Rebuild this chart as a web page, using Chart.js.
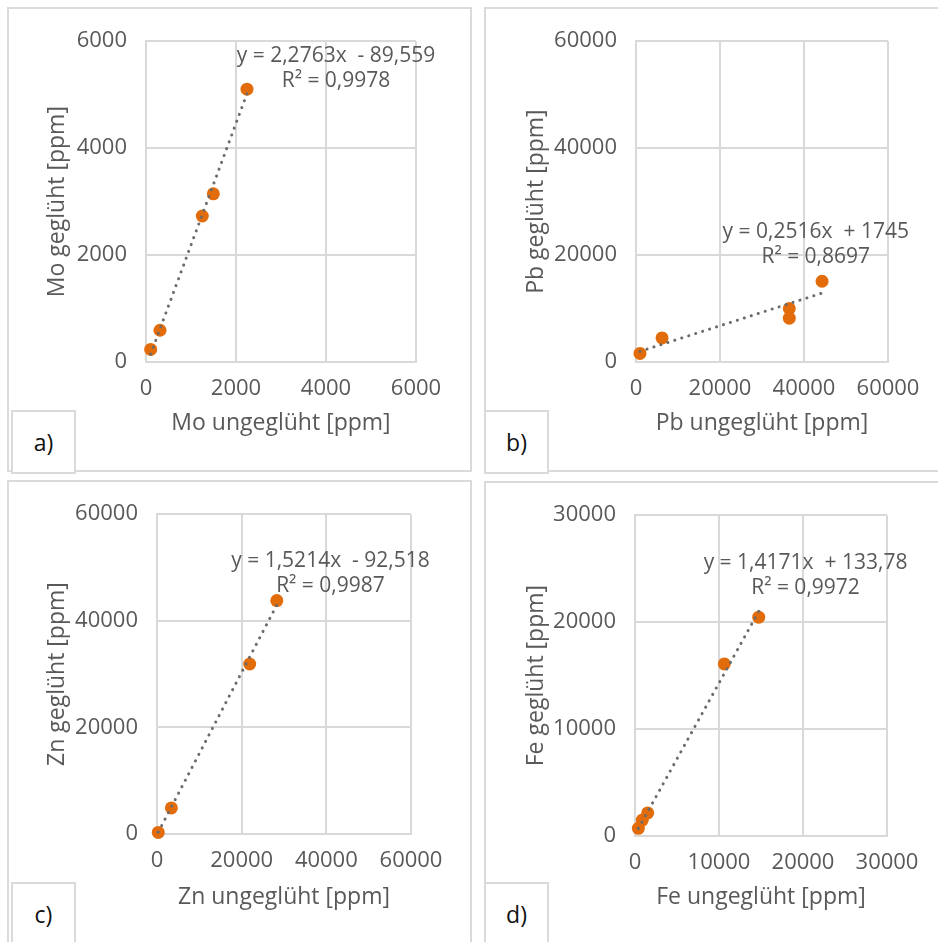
<!DOCTYPE html>
<html lang="de">
<head>
<meta charset="utf-8">
<title>geglüht vs. ungeglüht</title>
<script src="https://cdn.jsdelivr.net/npm/chart.js@4.4.1/dist/chart.umd.min.js"></script>
<style>
  body { margin: 0; background: #fff; width: 938px; height: 942px; overflow: hidden; position: relative; }
  .panel { position: absolute; box-sizing: border-box; border: 2px solid #dadada; background: #fff; }
  canvas { position: absolute; }
  .tag {
    position: absolute; box-sizing: border-box; border: 2px solid #dadada; background: #fff;
    font-family: "Open Sans", sans-serif; font-size: 23px; color: #111;
    display: flex; align-items: center; justify-content: center;
  }
</style>
</head>
<body>

<script>
// Messwerte (ppm), ungeglüht gegen geglüht
const moUngegluht = [104, 311, 1251, 1496, 2244];
const moGegluht = [236, 594, 2731, 3145, 5103];

const pbUngegluht = [950, 6200, 36500, 36500, 44300];
const pbGegluht = [1600, 4500, 10000, 8200, 15100];

const znUngegluht = [300, 3400, 21900, 28300];
const znGegluht = [300, 4900, 31900, 43800];

const feUngegluht = [400, 870, 1510, 10630, 14730];
const feGegluht = [720, 1490, 2160, 16090, 20460];

// lineare Regression je Element: Steigung, Achsenabschnitt, R²
const slopes = [2.2763, 0.2516, 1.5214, 1.4171];
const intercepts = [-89.559, 1745, -92.518, 133.78];
const rSquared = ['0,9978', '0,8697', '0,9987', '0,9972'];
const equations = ['y = 2,2763x  - 89,559', 'y = 0,2516x  + 1745', 'y = 1,5214x  - 92,518', 'y = 1,4171x  + 133,78'];

// Achsenbereiche
const axisMax = [6000, 60000, 60000, 30000];
const axisStep = [2000, 20000, 20000, 10000];
const elements = ['Mo', 'Pb', 'Zn', 'Fe'];
const tags = ['a)', 'b)', 'c)', 'd)'];

const panels = [
  { box: { x: 9, y: 9, w: 461, h: 461 }, plot: { l: 146, t: 39, r: 416, b: 362 }, eq: [4222, 5721], xs: moUngegluht, ys: moGegluht },
  { box: { x: 486, y: 9, w: 452, h: 461 }, plot: { l: 636, t: 39, r: 888, b: 362 }, eq: [42800, 24330], xs: pbUngegluht, ys: pbGegluht },
  { box: { x: 9, y: 482, w: 461, h: 460 }, plot: { l: 157, t: 512, r: 411, b: 834 }, eq: [40980, 51240], xs: znUngegluht, ys: znGegluht },
  { box: { x: 486, y: 483, w: 452, h: 459 }, plot: { l: 635, t: 513, r: 887, b: 836 }, eq: [20300, 25570], xs: feUngegluht, ys: feGegluht }
];

const grey = '#595959';
const gridColor = '#d9d9d9';
const font = '"Open Sans", sans-serif';

// Gleichung und Bestimmtheitsmaß über der Trendlinie
const trendLabel = {
  id: 'trendLabel',
  afterDatasetsDraw(chart, args, opts) {
    const ctx = chart.ctx;
    const x = chart.scales.x.getPixelForValue(opts.at[0]);
    const y = chart.scales.y.getPixelForValue(opts.at[1]);
    ctx.save();
    ctx.font = '21px ' + font;
    ctx.fillStyle = grey;
    ctx.textAlign = 'center';
    ctx.textBaseline = 'middle';
    ctx.fillText(opts.lines[0], x, y);
    ctx.fillText(opts.lines[1], x, y + 25);
    ctx.restore();
  }
};

panels.forEach(function (p, i) {
  const frame = document.createElement('div');
  frame.className = 'panel';
  frame.style.left = (p.box.x - 2) + 'px';
  frame.style.top = (p.box.y - 2) + 'px';
  frame.style.width = (p.box.w + 4) + 'px';
  frame.style.height = (p.box.h + 4) + 'px';
  document.body.appendChild(frame);

  const canvas = document.createElement('canvas');
  canvas.width = p.box.w;
  canvas.height = p.box.h;
  canvas.style.left = p.box.x + 'px';
  canvas.style.top = p.box.y + 'px';
  document.body.appendChild(canvas);

  const tag = document.createElement('div');
  tag.className = 'tag';
  tag.textContent = tags[i];
  tag.style.left = (p.box.x + (i % 2 === 0 ? 2 : -2)) + 'px';
  tag.style.top = (p.box.y + p.box.h - 60) + 'px';
  tag.style.width = '65px';
  tag.style.height = '64px';
  document.body.appendChild(tag);

  const points = p.xs.map((x, k) => ({ x: x, y: p.ys[k] }));
  const xMin = Math.min(...p.xs);
  const xMax = Math.max(...p.xs);
  const trend = [xMin, xMax].map(x => ({ x: x, y: slopes[i] * x + intercepts[i] }));

  const yWidth = p.plot.l - p.box.x;
  const xHeight = p.box.y + p.box.h - p.plot.b;

  const scaleBase = {
    type: 'linear',
    min: 0,
    max: axisMax[i],
    ticks: {
      stepSize: axisStep[i],
      color: grey,
      font: { family: font, size: 22 },
      callback: v => String(v)
    },
    grid: { color: gridColor, lineWidth: 2, drawTicks: false },
    border: { color: gridColor, width: 2 }
  };

  new Chart(canvas.getContext('2d'), {
    type: 'scatter',
    data: {
      datasets: [
        {
          type: 'line',
          data: trend,
          borderColor: '#6b6b6b',
          borderWidth: 3,
          borderDash: [0.1, 7.2],
          borderCapStyle: 'round',
          pointRadius: 0,
          fill: false,
          clip: false
        },
        {
          data: points,
          backgroundColor: '#e36c0a',
          borderWidth: 0,
          pointRadius: 6.5,
          clip: false
        }
      ]
    },
    options: {
      responsive: false,
      animation: false,
      devicePixelRatio: 1,
      layout: { padding: { top: p.plot.t - p.box.y, right: p.box.x + p.box.w - p.plot.r, left: 0, bottom: 0 } },
      plugins: {
        legend: { display: false },
        tooltip: { enabled: false },
        trendLabel: { at: p.eq, lines: [equations[i], 'R² = ' + rSquared[i]] }
      },
      scales: {
        x: Object.assign({}, scaleBase, {
          position: 'bottom',
          ticks: Object.assign({}, scaleBase.ticks, { padding: 14 }),
          title: { display: true, text: elements[i] + ' ungeglüht [ppm]', color: grey, font: { family: font, size: 23 }, padding: { top: 0, bottom: i < 2 ? 33 : 31 } },
          afterFit: s => { s.height = xHeight; }
        }),
        y: Object.assign({}, scaleBase, {
          position: 'left',
          ticks: Object.assign({}, scaleBase.ticks, { padding: 19 }),
          title: { display: true, text: elements[i] + ' geglüht [ppm]', color: grey, font: { family: font, size: 23 }, padding: { top: i % 2 === 0 ? 35 : 37, bottom: 0 } },
          afterFit: s => { s.width = yWidth; }
        })
      }
    },
    plugins: [trendLabel]
  });
});
</script>
</body>
</html>
